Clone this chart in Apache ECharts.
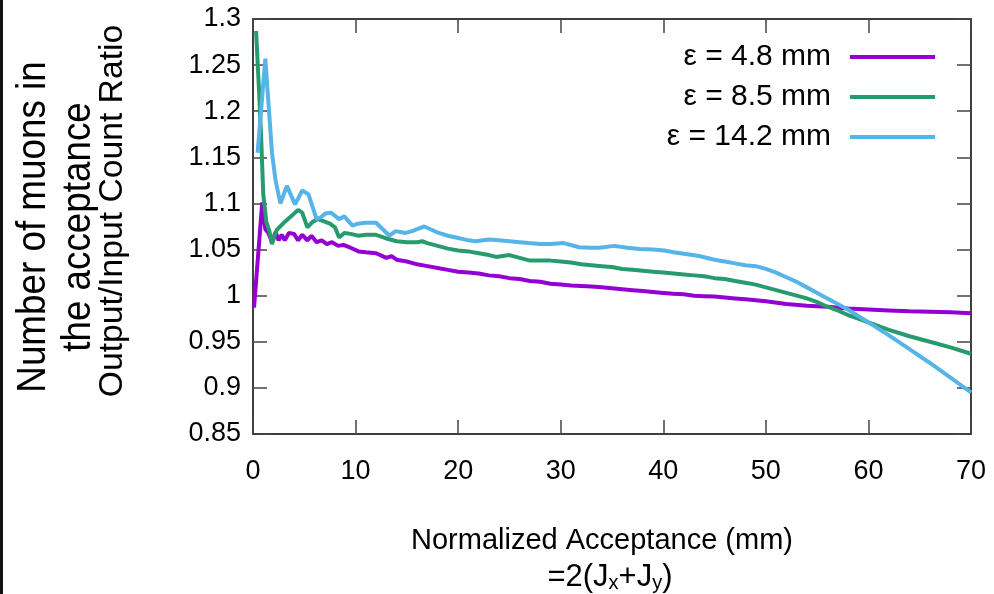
<!DOCTYPE html>
<html>
<head>
<meta charset="utf-8">
<script src="https://cdn.jsdelivr.net/npm/echarts@6/dist/echarts.min.js"></script>
<style>
html,body{margin:0;padding:0;background:#fff;}
#chart{width:994px;height:594px;}
</style>
</head>
<body>
<div id="chart"></div>
<script>
// ---- data ----
const seriesNames = ['ε = 4.8 mm', 'ε = 8.5 mm', 'ε = 14.2 mm'];
const seriesColors = ['#9400d3', '#279b6e', '#56b4e9'];

const x48 = [0.1,0.9,1.2,1.5,1.85,2.2,2.5,2.8,3.1,3.5,4.0,4.4,4.8,5.3,5.7,6.2,6.7,7.2,7.7,8.3,8.8,9.5,10.3,11,12,13,13.5,14,15,16,17,18,19,20,21,22,23,24,25,26,27,28,29,30,31,32,33,34,35,36,37,38,39,40,41,42,43,44,45,46,47,48,50,52,54,56,58,60,62,64,66,68,70];
const y48 = [0.987,1.101,1.072,1.068,1.058,1.069,1.060,1.066,1.060,1.068,1.067,1.060,1.066,1.060,1.065,1.058,1.060,1.056,1.058,1.054,1.055,1.052,1.048,1.047,1.046,1.041,1.043,1.039,1.037,1.034,1.032,1.030,1.028,1.026,1.025,1.024,1.022,1.021,1.019,1.018,1.016,1.015,1.013,1.012,1.011,1.0105,1.010,1.009,1.008,1.007,1.006,1.005,1.004,1.003,1.002,1.0015,1.000,0.9995,0.999,0.998,0.997,0.996,0.994,0.991,0.989,0.988,0.986,0.985,0.984,0.983,0.9825,0.982,0.981];

const x85 = [0.3,0.6,0.8,1.0,1.3,1.6,1.85,2.3,3.0,3.8,4.4,4.8,5.3,5.8,6.3,6.8,7.5,8.0,8.4,8.9,9.5,10.3,11,12,13,14,15,16,16.5,17,18,19,20,21,22,23,23.7,25,26,27,28,29,30,31,32,33,34,35,36,37,38,39,40,41,42,43,44,45,46,47,48,49,50,51,52,53,54,55,56,57,58,59,60,61,62,64,66,68,70];
const y85 = [1.287,1.22,1.17,1.11,1.08,1.07,1.056,1.071,1.079,1.087,1.093,1.090,1.074,1.080,1.083,1.081,1.078,1.074,1.063,1.068,1.067,1.065,1.066,1.066,1.062,1.059,1.058,1.058,1.059,1.057,1.054,1.051,1.049,1.048,1.046,1.044,1.042,1.044,1.041,1.038,1.038,1.038,1.037,1.036,1.034,1.033,1.032,1.031,1.029,1.028,1.027,1.026,1.025,1.024,1.023,1.022,1.021,1.019,1.018,1.016,1.014,1.012,1.009,1.006,1.003,1.000,0.997,0.993,0.988,0.984,0.979,0.975,0.971,0.967,0.963,0.956,0.950,0.944,0.937];

const x142 = [0.45,1.2,1.5,1.85,2.2,2.67,3.3,4.1,4.8,5.4,6.2,6.6,7.05,7.6,8.4,8.9,9.7,10.2,11,12,13.3,13.9,14.9,15.5,16.2,16.7,17.3,18.1,19,19.8,21,21.7,23,24,25,26,26.9,28,29,30.3,31.8,33,33.8,35.2,36.5,37.7,39,40.1,41,42,43.5,45,46,47,48,49,50,51,52,53,54,55,56,57,58,59,60,61,62,64,66,68,70];
const y142 = [1.155,1.257,1.21,1.155,1.125,1.100,1.119,1.099,1.114,1.110,1.083,1.085,1.089,1.090,1.083,1.086,1.076,1.078,1.079,1.079,1.065,1.070,1.068,1.070,1.073,1.075,1.072,1.068,1.065,1.063,1.060,1.059,1.061,1.060,1.059,1.058,1.057,1.056,1.056,1.057,1.0525,1.052,1.052,1.054,1.052,1.0507,1.050,1.049,1.047,1.0455,1.043,1.039,1.037,1.035,1.033,1.032,1.029,1.025,1.020,1.015,1.009,1.003,0.997,0.991,0.985,0.978,0.971,0.964,0.957,0.942,0.927,0.911,0.895];

const xAxisTicks = {min: 0, max: 70, interval: 10};
const yAxisTicks = {min: 0.85, max: 1.3, interval: 0.05};

// ---- chart ----
const zip = (xs, ys) => xs.map((x, i) => [x, ys[i]]);
const allX = [x48, x85, x142];
const allY = [y48, y85, y142];

const FONT = '"Liberation Sans", Arial, sans-serif';
const chart = echarts.init(document.getElementById('chart'), null, {renderer: 'canvas'});

const axisCommon = {
  type: 'value',
  axisLine: {show: true, onZero: false, lineStyle: {color: '#000', width: 1.5}},
  axisTick: {show: true, inside: true, length: 14, lineStyle: {color: '#444', width: 1.5}},
  splitLine: {show: false}
};

chart.setOption({
  animation: false,
  backgroundColor: '#fff',
  grid: {left: 253, right: 23, top: 19, bottom: 160, containLabel: false},
  xAxis: [
    Object.assign({}, axisCommon, {
      position: 'bottom', min: xAxisTicks.min, max: xAxisTicks.max, interval: xAxisTicks.interval,
      axisLabel: {show: true, margin: 24, color: '#000', fontSize: 27, fontFamily: FONT}
    }),
    Object.assign({}, axisCommon, {
      position: 'top', min: xAxisTicks.min, max: xAxisTicks.max, interval: xAxisTicks.interval,
      axisLabel: {show: false}
    })
  ],
  yAxis: [
    Object.assign({}, axisCommon, {
      position: 'left', min: yAxisTicks.min, max: yAxisTicks.max, interval: yAxisTicks.interval,
      axisLabel: {show: true, margin: 12, color: '#000', fontSize: 27, fontFamily: FONT,
        formatter: v => String(+v.toFixed(2))}
    }),
    Object.assign({}, axisCommon, {
      position: 'right', min: yAxisTicks.min, max: yAxisTicks.max, interval: yAxisTicks.interval,
      axisLabel: {show: false}
    })
  ],
  legend: {
    orient: 'vertical', right: 54, top: 37, align: 'right',
    icon: 'rect', itemWidth: 85, itemHeight: 4, itemGap: 10,
    textStyle: {fontSize: 30, fontFamily: FONT, color: '#000', lineHeight: 30, padding: [0, 14, 0, 0]},
    data: seriesNames
  },
  series: seriesNames.map((name, i) => ({
    name: name, type: 'line', xAxisIndex: 0, yAxisIndex: 0,
    data: zip(allX[i], allY[i]),
    showSymbol: false, symbol: 'none', color: seriesColors[i],
    lineStyle: {width: 4, color: seriesColors[i]},
    z: 3 + i
  })),
  graphic: [
    {type: 'rect', left: 0, top: 0, shape: {width: 3, height: 594}, style: {fill: '#111'}},
    {type: 'text', x: 34, y: 227, rotation: Math.PI / 2, scaleX: 0.92,
      style: {text: 'Number of muons in', font: '40px ' + FONT, fill: '#000', textAlign: 'center', textVerticalAlign: 'middle'}},
    {type: 'text', x: 79, y: 227, rotation: Math.PI / 2, scaleX: 0.92,
      style: {text: 'the acceptance', font: '40px ' + FONT, fill: '#000', textAlign: 'center', textVerticalAlign: 'middle'}},
    {type: 'text', x: 113, y: 211, rotation: Math.PI / 2, scaleX: 1.02,
      style: {text: 'Output/Input Count Ratio', font: '33px ' + FONT, fill: '#000', textAlign: 'center', textVerticalAlign: 'middle'}},
    {type: 'text', x: 602, y: 541,
      style: {text: 'Normalized Acceptance (mm)', font: '29px ' + FONT, fill: '#000', textAlign: 'center', textVerticalAlign: 'middle'}},
    {type: 'text', x: 610, y: 577,
      style: {text: '=2(J{s|x}+J{s|y})', font: '31px ' + FONT, fill: '#000', textAlign: 'center', textVerticalAlign: 'middle',
        rich: {s: {fontSize: 20, fontFamily: FONT, fill: '#000', verticalAlign: 'bottom', padding: [13, 0, 0, 0]}}}}
  ]
});
</script>
</body>
</html>
